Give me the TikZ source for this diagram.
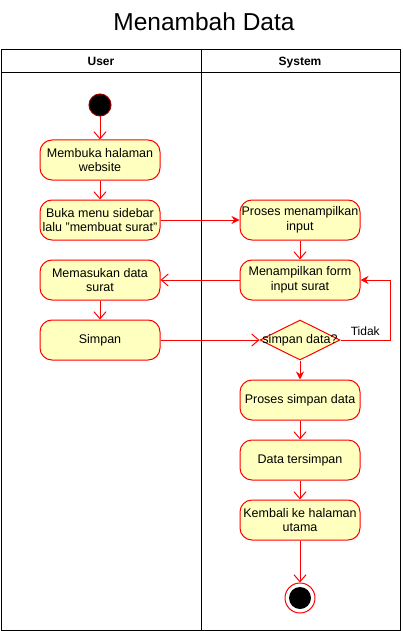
\documentclass[tikz,border=0pt]{standalone}
\usepackage{fontspec}
\setmainfont{Liberation Sans}
\usetikzlibrary{arrows.meta,shapes.geometric}
\definecolor{actfill}{HTML}{FFFFC0}

\begin{document}
\begin{tikzpicture}
		[x=1pt,y=-1pt,line width=1pt,
		 act/.style={rectangle,rounded corners=12pt,draw=red,fill=actfill,minimum width=120pt,minimum height=40pt,align=center,inner sep=1pt,font=\fontsize{12.5}{14.5}\selectfont},
		 openarr/.style={draw=red,-{Straight Barb[length=7pt,width=12pt]}},
		 fullarr/.style={draw=red,-{Stealth[length=8pt,width=8pt]}},
		 lane/.style={font=\bfseries\fontsize{12}{14}\selectfont,anchor=base}]
		\useasboundingbox (0,0) rectangle (402,631);

		% title and lanes
		\node (title) at (204,22) {\fontsize{24.5}{28}\selectfont Menambah Data};
		\draw (1,50) rectangle (400,630);
		\draw (1,73) -- (400,73);
		\draw (201,50) -- (201,630);
		\node[lane] (user) at (101,66) {User};
		\node[lane] (system) at (300,66) {System};

		% user lane
		\node[circle,fill=black,draw=red!60!black,minimum size=22pt,inner sep=0pt] (start) at (100,105) {};
		\node[act] (n1) at (100,160) {Membuka halaman\\website};
		\node[act] (n2) at (100,220) {Buka menu sidebar\\lalu "membuat surat"};
		\node[act] (n3) at (100,280) {Memasukan data\\surat};
		\node[act] (n4) at (100,340) {Simpan};

		% system lane
		\node[act] (s1) at (300,220) {Proses menampilkan\\input};
		\node[act] (s2) at (300,280) {Menampilkan form\\input surat};
		\node[diamond,draw=red,fill=actfill,minimum width=80pt,minimum height=40pt,inner sep=0pt,
			label={[font=\fontsize{12.5}{14.5}\selectfont]center:simpan data?}] (d1) at (300,340) {};
		\node[act] (s3) at (300,400) {Proses simpan data};
		\node[act] (s4) at (300,460) {Data tersimpan};
		\node[act] (s5) at (300,520) {Kembali ke halaman\\utama};
		\node[circle,draw=red,fill=white,minimum size=30pt,inner sep=0pt] (stop) at (300,598) {};
		\node[circle,fill=black,minimum size=22pt,inner sep=0pt] (stopin) at (300,598) {};

		\coordinate (loop) at (390,340);

		\draw[openarr] (start) -- (n1);
		\draw[openarr] (n1) -- (n2);
		\draw[fullarr] (n2) -- (s1);
		\draw[openarr] (s1) -- (s2);
		\draw[openarr] (s2) -- (n3);
		\draw[openarr] (n3) -- (n4);
		\draw[openarr] (n4) -- (d1);
		\draw[fullarr] (d1) -- (s3);
		\draw[fullarr] (d1.east) -- (loop) node[pos=0.5,above=1pt,text=black,font=\fontsize{12}{14}\selectfont] {Tidak} |- (s2.east);
		\draw[openarr] (s3) -- (s4);
		\draw[openarr] (s4) -- (s5);
		\draw[openarr] (s5) -- (stop);

	\end{tikzpicture}
\end{document}
